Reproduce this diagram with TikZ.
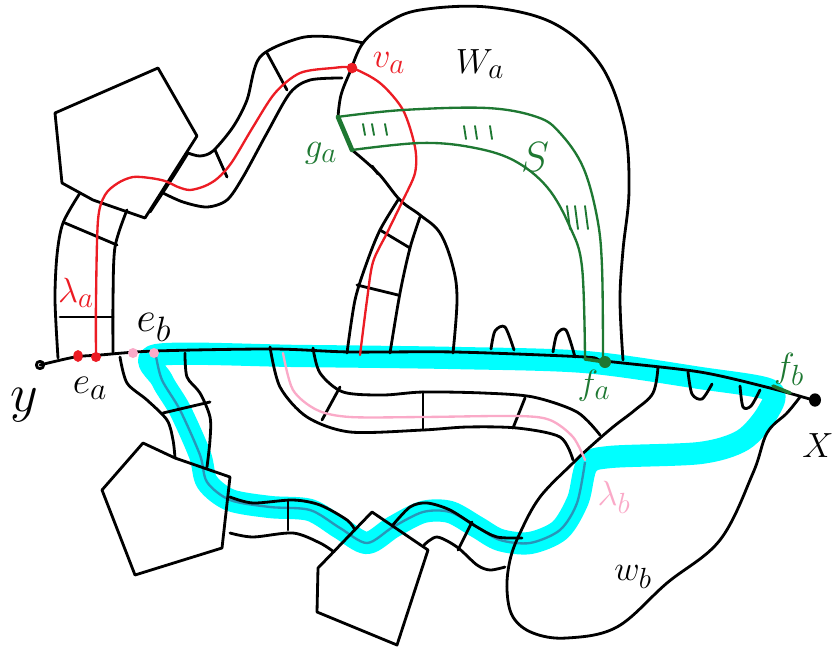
\documentclass[tikz,border=0pt]{standalone}
\usepackage{amsmath}
\usepackage{amssymb}
\usepackage{graphicx}
\usepackage{tikz}
\usepackage{xcolor}
\definecolor{pen-red}{RGB}{236,28,36}
\definecolor{pen-pink}{RGB}{250,170,200}
\definecolor{pen-green}{RGB}{30,120,50}
\definecolor{mark-cyan}{RGB}{0,255,255}
\definecolor{mark-teal}{RGB}{40,150,185}
\newcommand{\hand}[2][1.2]{\scalebox{#1}{$#2$}}
\tikzset{
    black-pen/.style = {draw=black, line width=2.4pt, line cap=round, line join=round},
    red-pen/.style = {draw=pen-red, line width=2pt, line cap=round, line join=round},
    pink-pen/.style = {draw=pen-pink, line width=2pt, line cap=round, line join=round},
    green-pen/.style = {draw=pen-green, line width=2pt, line cap=round, line join=round},
    cyan-mark/.style = {draw=mark-cyan, line width=19pt, line join=round},
    hand-label/.style = {inner sep=0pt, font=\fontsize{24.88}{25}\selectfont},
    hash/.style = {green-pen, line width=1.6pt},
}

\begin{document}
\begin{tikzpicture}[x=0.3mm, y=-0.3mm]
\useasboundingbox (0,0) rectangle (833,648);

\draw[cyan-mark] plot[smooth cycle, tension=0.5] coordinates {(157,355) (300,356) (455,358) (585,362) (700,378) (770,390) (768,412) (743,440) (700,453) (610,457) (587,465) (578,500) (560,530) (530,543) (500,540) (477,527) (450,512) (423,512) (393,527) (367,543) (340,528) (310,510) (270,507) (230,500) (207,482) (200,455) (180,410) (162,380)};
\draw[mark-teal, line width=2pt] plot[smooth, tension=0.5] coordinates {(585,462) (577,503) (560,530) (530,543) (500,540) (477,527) (450,512) (423,512) (393,527) (367,543) (340,528) (310,510) (270,507) (230,500) (207,482) (200,455) (180,410) (162,380) (156,356)};

\draw[black-pen] plot[smooth, tension=0.5] coordinates {(40,365) (75,357) (100,355) (155,351) (273,349) (350,352) (455,352) (585,357) (605,361) (700,372) (770,388) (813,400)};

\draw[black-pen] (55,113) -- (158,68) -- (197,136) -- (145,218) -- (93,200) -- (62,183) -- cycle;
\draw[black-pen] (143,443) -- (175,458) -- (230,477) -- (222,548) -- (135,575) -- (102,490) -- cycle;
\draw[black-pen] (372,512) -- (428,550) -- (397,645) -- (317,612) -- (318,568) -- cycle;

\draw[black-pen] plot[smooth] coordinates {(58,358) (55,300) (57,255) (63,223) (80,193)};
\draw[black-pen] plot[smooth] coordinates {(113,353) (113,300) (115,247) (127,210)};
\draw[black-pen] (60,317) -- (113,317);
\draw[black-pen] (65,223) -- (117,245);

\draw[black-pen] plot[smooth] coordinates {(150,212) (173,177) (188,153)};
\draw[black-pen] plot[smooth] coordinates {(188,153) (200,156) (213,151) (233,127) (247,100) (260,57) (300,38) (333,37) (363,43)};
\draw[black-pen] plot[smooth] coordinates {(163,193) (183,202) (207,207) (227,200) (243,177) (267,133) (290,93) (310,80) (342,78)};
\draw[black-pen] (215,150) -- (227,177);
\draw[black-pen] (267,53) -- (287,90);

\draw[black-pen] plot[smooth, tension=0.6] coordinates {(338,117) (341,95) (350,72) (363,43) (387,23) (420,10) (487,7) (553,23) (600,64) (624,125) (629,190) (623,250) (620,300) (623,360)};
\draw[black-pen] plot[smooth, tension=0.6] coordinates {(352,150) (378,173) (400,200) (420,215) (440,233) (453,267) (457,300) (453,353)};
\draw[black-pen] (372,166) -- (378,174);
\draw[black-pen] plot[smooth] coordinates {(347,353) (355,300) (367,262) (380,230) (398,200)};
\draw[black-pen] plot[smooth] coordinates {(390,353) (400,293) (410,248) (420,217)};
\draw[black-pen] (380,230) -- (410,248);
\draw[black-pen] (357,285) -- (398,295);

\draw[black-pen] plot[smooth] coordinates {(491,349) (495,331) (505,327) (514,350)};
\draw[black-pen] plot[smooth] coordinates {(553,352) (557,334) (566,330) (575,357)};
\draw[black-pen] plot[smooth] coordinates {(688,372) (692,394) (702,399) (712,384)};
\draw[black-pen] plot[smooth] coordinates {(740,386) (743,407) (751,406) (760,390)};

\draw[black-pen] plot[smooth] coordinates {(120,357) (127,383) (147,400) (167,420) (173,440) (175,458)};
\draw[black-pen] plot[smooth] coordinates {(185,353) (187,377) (200,393) (210,417) (210,440) (207,467)};
\draw[black-pen] (163,413) -- (210,402);

\draw[black-pen] plot[smooth] coordinates {(230,497) (253,503) (293,500) (320,505) (347,520) (355,530)};
\draw[black-pen] plot[smooth] coordinates {(230,533) (253,537) (293,533) (320,543) (334,552)};
\draw[black-pen] (288,500) -- (288,530);
\draw[black-pen] plot[smooth] coordinates {(392,526) (410,507) (427,503) (450,510) (477,527) (497,537) (522,538)};
\draw[black-pen] plot[smooth] coordinates {(424,545) (437,537) (457,547) (477,565) (490,570) (505,567)};
\draw[black-pen] (472,522) -- (458,550);

\draw[black-pen] plot[smooth] coordinates {(313,348) (320,373) (343,392) (383,395) (423,392) (483,393) (533,397) (577,412) (600,435)};
\draw[black-pen] plot[smooth] coordinates {(270,347) (280,387) (307,417) (350,432) (423,430) (467,427) (517,428) (560,437) (573,460)};
\draw[black-pen] (340,387) -- (322,420);
\draw[black-pen] (423,392) -- (423,430);
\draw[black-pen] (525,398) -- (513,428);

\draw[black-pen] plot[smooth, tension=0.6] coordinates {(658,367) (653,393) (635,410) (613,427) (590,447) (573,463) (540,497) (520,533) (510,560) (507,590) (513,617) (533,633) (567,638) (617,627) (667,583) (720,540) (753,473) (767,433) (787,413) (800,397)};

\draw[pink-pen] plot[smooth] coordinates {(283,353) (293,390) (317,410) (350,417) (423,417) (517,416) (550,420) (573,437) (585,460)};

\draw[red-pen] plot[smooth, tension=0.5] coordinates {(96,357) (96,300) (98,220) (105,195) (118,183) (133,177) (150,178) (165,181) (178,187) (190,190) (205,186) (218,178) (232,162) (253,127) (275,93) (300,73) (333,68) (352,68) (380,83) (403,110) (415,147) (415,173) (403,200) (387,233) (373,262) (367,300) (360,355)};

\draw[green-pen] plot[smooth, tension=0.6] coordinates {(337,117) (403,110) (487,108) (537,117) (560,133) (583,167) (597,217) (602,267) (603,360)};
\draw[green-pen] plot[smooth, tension=0.6] coordinates {(352,150) (420,143) (470,147) (513,160) (547,187) (570,227) (582,267) (585,358)};
\draw[green-pen, line width=4pt] (338,117) -- (352,150);
\draw[green-pen, line width=3pt] (585,359) -- (605,362);
\draw[green-pen, line width=3pt] (773,386) -- (790,393);
\fill[pen-green] (605,362) circle[radius=1.8mm];
\foreach \hx in {363,372,385} \draw[hash] (\hx,124) -- (\hx+2,135);
\foreach \hx in {464,475,490} \draw[hash] (\hx,126) -- (\hx+2,139);
\foreach \hx in {567,575,585} \draw[hash] (\hx,206) -- (\hx+3,229);

\fill[pen-red] (352,68) circle[radius=1.6mm];
\fill[pen-red] (78,356) ellipse[x radius=1.4mm, y radius=1.8mm];
\fill[pen-red] (96,357) circle[radius=1.5mm];
\fill[pen-pink] (133,353) circle[radius=1.5mm];
\fill[pen-pink] (154,353) circle[radius=1.5mm];
\draw[black-pen] (40,365) circle[radius=1.1mm];
\fill[black] (815,400) ellipse[x radius=1.8mm, y radius=2mm];

\node[hand-label, text=pen-red] (va-label) at (389,63) {\hand{v_a}};
\node[hand-label] (wa-label) at (480,64) {\hand{W_a}};
\node[hand-label, text=pen-green] (ga-label) at (321,153) {\hand{g_a}};
\node[hand-label, text=pen-green] (s-label) at (535,157) {\hand[1.45]{S}};
\node[hand-label, text=pen-red] (lambda-a-label) at (76,293) {\hand{\lambda_a}};
\node[hand-label] (ea-label) at (90,388) {\hand[1.3]{e_a}};
\node[hand-label] (eb-label) at (154,327) {\hand[1.45]{e_b}};
\node[hand-label] (y-label) at (24,405) {\hand[1.85]{y}};
\node[hand-label, text=pen-green] (fa-label) at (594,386) {\hand{f_a}};
\node[hand-label, text=pen-green] (fb-label) at (789,369) {\hand{f_b}};
\node[hand-label, text=pen-pink] (lambda-b-label) at (614,497) {\hand{\lambda_b}};
\node[hand-label] (wb-label) at (633,577) {\hand{w_b}};
\node[hand-label] (x-label) at (818,446) {\hand{X}};
\end{tikzpicture}
\end{document}
